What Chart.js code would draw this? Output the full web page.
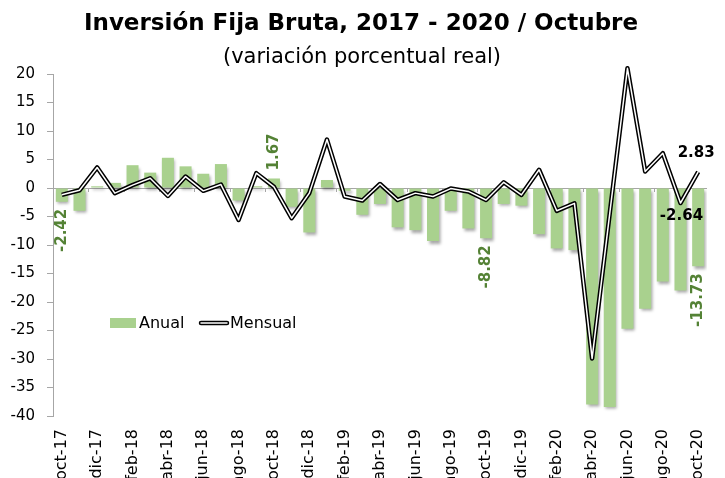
<!DOCTYPE html>
<html>
<head>
<meta charset="utf-8">
<script src="https://cdn.jsdelivr.net/npm/chart.js@4.4.0/dist/chart.umd.min.js"></script>
<style>
  html, body { margin: 0; padding: 0; background: #fff; }
  #wrap { width: 725px; height: 478px; }
</style>
</head>
<body>
<div id="wrap"><canvas id="chart"></canvas></div>
<script>
const months = ['oct-17', 'nov-17', 'dic-17', 'ene-18', 'feb-18', 'mar-18', 'abr-18', 'may-18', 'jun-18',
  'jul-18', 'ago-18', 'sep-18', 'oct-18', 'nov-18', 'dic-18', 'ene-19', 'feb-19', 'mar-19', 'abr-19',
  'may-19', 'jun-19', 'jul-19', 'ago-19', 'sep-19', 'oct-19', 'nov-19', 'dic-19', 'ene-20', 'feb-20',
  'mar-20', 'abr-20', 'may-20', 'jun-20', 'jul-20', 'ago-20', 'sep-20', 'oct-20'];

const anual = [-2.42, -4.0, 0.3, 0.9, 4.0, 2.7, 5.3, 3.8, 2.5, 4.2, -2.2, 0.3, 1.67, -3.3, -7.8, 1.4,
  -0.5, -4.7, -2.8, -6.9, -7.4, -9.3, -4.0, -7.1, -8.82, -2.8, -3.1, -8.1, -10.6, -10.9, -38.0, -38.4,
  -24.7, -21.2, -16.4, -18.0, -13.73];

const mensual = [-1.2, -0.4, 3.6, -0.9, 0.5, 1.7, -1.4, 2.0, -0.5, 0.6, -5.6, 2.6, 0.2, -5.3, -0.9, 8.5,
  -1.5, -2.2, 0.7, -2.1, -0.9, -1.5, -0.1, -0.6, -2.1, 1.0, -1.2, 3.2, -4.0, -2.7, -29.9, -4.4,
  21.0, 2.9, 6.1, -2.64, 2.83];

// which points get a value label
const anualLabelIdx = [0, 12, 24, 36];
const mensualLabelIdx = [35, 36];

const FONT = '"DejaVu Sans", sans-serif';
const GREEN = '#a9d18e';

// title, subtitle, legend, zero-line ticks, shadows and value labels
const decorPlugin = {
  id: 'decorPlugin',
  beforeDatasetsDraw(chart) {
    const { ctx, scales: { x, y } } = chart;
    const step = x.getPixelForValue(1) - x.getPixelForValue(0);
    const y0 = y.getPixelForValue(0);
    ctx.save();
    ctx.strokeStyle = '#a6a6a6';
    ctx.lineWidth = 1;
    for (let k = 0; k <= months.length; k += 2) {
      const px = Math.round(x.getPixelForValue(0) - step / 2 + k * step) + 0.5;
      ctx.beginPath();
      ctx.moveTo(px, y0);
      ctx.lineTo(px, y0 + 4);
      ctx.stroke();
    }
    ctx.restore();
  },
  beforeDatasetDraw(chart, args) {
    if (args.index !== 2) return;
    const { ctx } = chart;
    ctx.save();
    ctx.shadowColor = 'rgba(0,0,0,0.35)';
    ctx.shadowOffsetX = 1.5;
    ctx.shadowOffsetY = 2.5;
    ctx.shadowBlur = 3;
  },
  afterDatasetDraw(chart, args) {
    if (args.index !== 2) return;
    chart.ctx.restore();
  },
  afterDraw(chart) {
    const { ctx, scales: { x, y } } = chart;
    ctx.save();
    ctx.fillStyle = '#000';
    ctx.textAlign = 'center';
    ctx.textBaseline = 'alphabetic';
    ctx.font = 'bold 23px ' + FONT;
    ctx.fillText('Inversión Fija Bruta, 2017 - 2020 / Octubre', 361, 30);
    ctx.font = '21px ' + FONT;
    ctx.fillText('(variación porcentual real)', 362, 63);

    // legend
    ctx.fillStyle = GREEN;
    ctx.fillRect(110, 318, 26, 10);
    ctx.fillStyle = '#000';
    ctx.textAlign = 'left';
    ctx.textBaseline = 'middle';
    ctx.font = '16px ' + FONT;
    ctx.fillText('Anual', 139, 324);
    ctx.lineCap = 'round';
    ctx.strokeStyle = '#000';
    ctx.lineWidth = 4.5;
    ctx.beginPath(); ctx.moveTo(201, 323); ctx.lineTo(227, 323); ctx.stroke();
    ctx.strokeStyle = '#fff';
    ctx.lineWidth = 1.5;
    ctx.beginPath(); ctx.moveTo(201, 323); ctx.lineTo(227, 323); ctx.stroke();
    ctx.fillText('Mensual', 230, 324);

    // annual labels, rotated
    ctx.font = 'bold 15px ' + FONT;
    ctx.fillStyle = '#548235';
    anualLabelIdx.forEach(i => {
      const v = anual[i];
      const px = x.getPixelForValue(i);
      const py = y.getPixelForValue(v);
      ctx.save();
      ctx.translate(px, v < 0 ? py + 7 : py - 8);
      ctx.rotate(-Math.PI / 2);
      ctx.textAlign = v < 0 ? 'right' : 'left';
      ctx.textBaseline = 'middle';
      ctx.fillText(v.toFixed(2), 0, 0);
      ctx.restore();
    });

    // monthly labels
    ctx.fillStyle = '#000';
    ctx.textAlign = 'center';
    ctx.textBaseline = 'middle';
    mensualLabelIdx.forEach(i => {
      const v = mensual[i];
      const px = x.getPixelForValue(i);
      const py = y.getPixelForValue(v);
      ctx.fillText(v.toFixed(2), v < 0 ? px + 1 : px - 2, v < 0 ? py + 13 : py - 19);
    });
    ctx.restore();
  }
};

new Chart(document.getElementById('chart'), {
  data: {
    labels: months,
    datasets: [
      {
        type: 'line', label: 'Mensual', data: mensual, order: 0,
        borderColor: '#fff', borderWidth: 1.5, pointRadius: 0, tension: 0,
        borderJoinStyle: 'round', clip: false
      },
      {
        type: 'line', label: 'Mensual borde', data: mensual, order: 1,
        borderColor: '#000', borderWidth: 4.5, pointRadius: 0, tension: 0,
        borderJoinStyle: 'round', clip: false
      },
      {
        type: 'bar', label: 'Anual', data: anual, order: 2,
        backgroundColor: GREEN, borderWidth: 0,
        categoryPercentage: 1, barPercentage: 0.68
      }
    ]
  },
  options: {
    responsive: true,
    maintainAspectRatio: false,
    animation: false,
    layout: { padding: { top: 74, right: 18, left: 0, bottom: 0 } },
    plugins: {
      legend: { display: false },
      tooltip: { enabled: false }
    },
    scales: {
      x: {
        grid: { display: false },
        border: { display: false },
        afterFit(scale) { scale.height = 62; },
        ticks: {
          autoSkip: false, minRotation: 90, maxRotation: 90, padding: 5,
          color: '#000', font: { family: FONT, size: 16 },
          callback(value, index) { return index % 2 === 0 ? months[index] : ''; }
        }
      },
      y: {
        min: -40, max: 20,
        afterFit(scale) { scale.width = 53; },
        border: { display: true, color: '#a6a6a6' },
        grid: {
          drawOnChartArea: true, drawTicks: true, tickLength: 6,
          color: ctx => ctx.tick && ctx.tick.value === 0 ? '#a6a6a6' : 'rgba(0,0,0,0)',
          tickColor: '#a6a6a6'
        },
        ticks: {
          stepSize: 5, padding: 12, color: '#000',
          font: { family: FONT, size: 15 }
        }
      }
    }
  },
  plugins: [decorPlugin]
});
</script>
</body>
</html>
